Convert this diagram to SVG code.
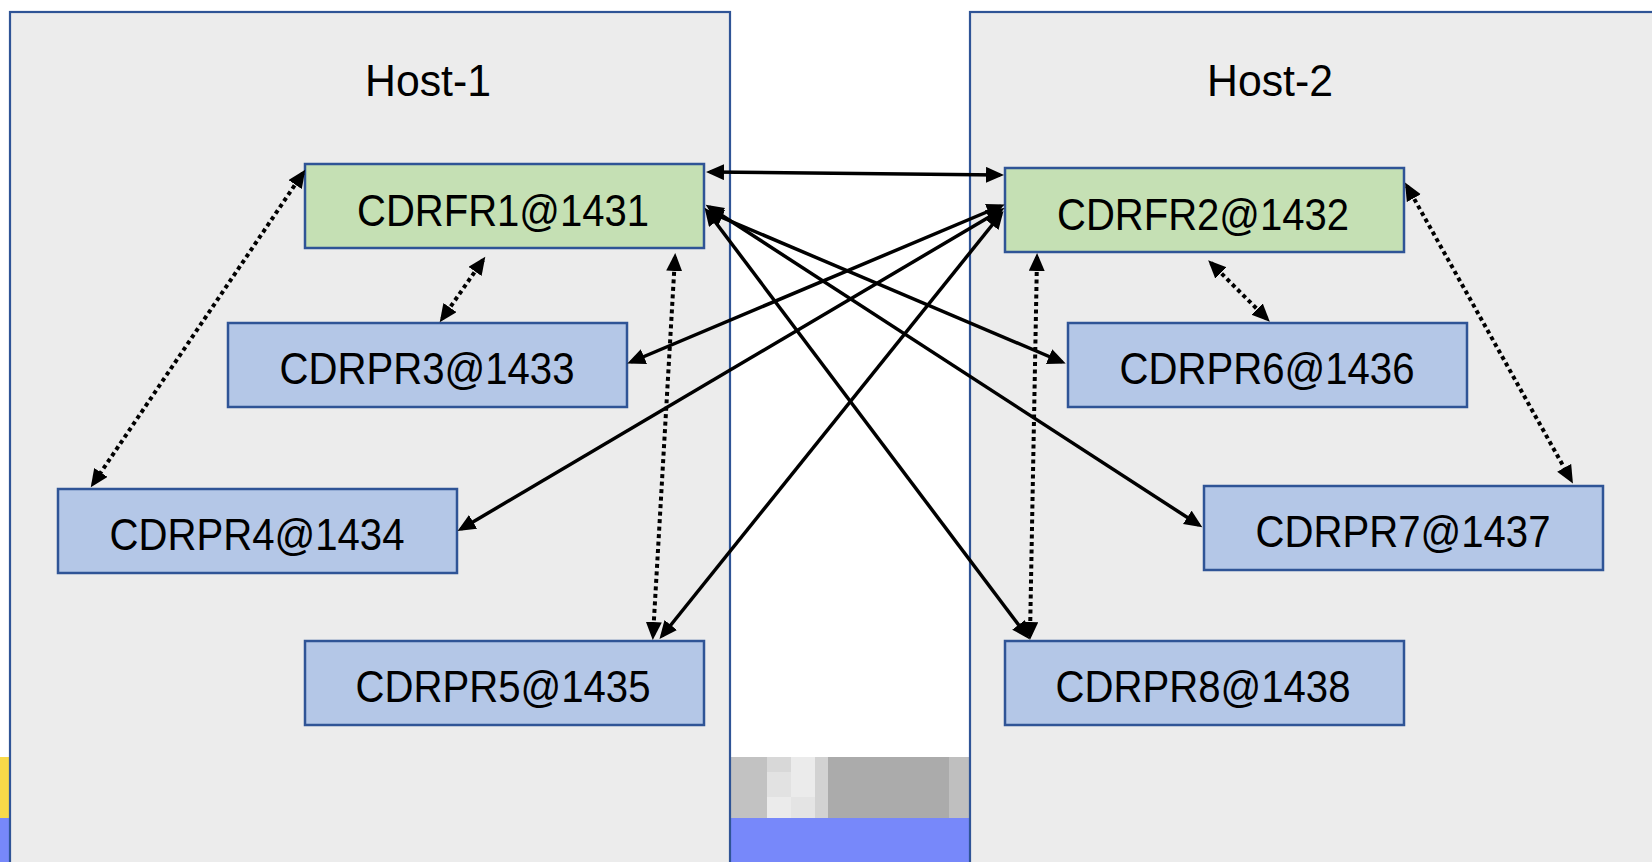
<svg xmlns="http://www.w3.org/2000/svg" width="1652" height="862" viewBox="0 0 1652 862">
  <style>
    .host { fill: #ececec; stroke: #2f5496; stroke-width: 2.2; }
    .fr { fill: #c5e0b4; stroke: #2f5496; stroke-width: 2.5; }
    .pr { fill: #b4c7e7; stroke: #2f5496; stroke-width: 2.5; }
    .lbl { font-family: "Liberation Sans", Arial, sans-serif; font-size: 45px; fill: #000; text-anchor: middle; }
    .solid { fill: none; stroke: #000; stroke-width: 3.5; marker-start: url(#arrow); marker-end: url(#arrow); }
    .dotted { fill: none; stroke: #000; stroke-width: 4; stroke-dasharray: 4 3.5; marker-start: url(#arrow); marker-end: url(#arrow); }
  </style>
  <defs>
    <marker id="arrow" markerUnits="userSpaceOnUse" markerWidth="19" markerHeight="17" refX="14" refY="8" orient="auto-start-reverse">
      <path d="M0,0 L18,8 L0,16 Z" fill="#000"/>
    </marker>
  </defs>

  <!-- page background and bottom strips -->
  <rect x="0" y="0" width="1652" height="862" fill="#ffffff"/>
  <rect x="0" y="757" width="12" height="61" fill="#f8d949"/>
  <rect x="0" y="818" width="1652" height="44" fill="#7788fa"/>
  <g id="band">
    <rect x="730" y="757" width="37" height="61" fill="#c2c2c2"/>
    <rect x="767" y="757" width="24" height="15" fill="#d8d8d8"/>
    <rect x="767" y="772" width="24" height="25" fill="#e2e2e2"/>
    <rect x="767" y="797" width="24" height="21" fill="#ebebeb"/>
    <rect x="791" y="757" width="24" height="40" fill="#ebebeb"/>
    <rect x="791" y="797" width="24" height="21" fill="#e4e4e4"/>
    <rect x="815" y="757" width="13" height="61" fill="#d2d2d2"/>
    <rect x="828" y="757" width="121" height="61" fill="#ababab"/>
    <rect x="949" y="757" width="21" height="61" fill="#bfbfbf"/>
  </g>

  <!-- hosts -->
  <g id="host-1">
    <rect class="host" x="10" y="12" width="720" height="870"/>
    <text class="lbl" x="428" y="96" textLength="126" lengthAdjust="spacingAndGlyphs">Host-1</text>
  </g>
  <g id="host-2">
    <rect class="host" x="970" y="12" width="720" height="870"/>
    <text class="lbl" x="1270" y="96" textLength="126" lengthAdjust="spacingAndGlyphs">Host-2</text>
  </g>

  <!-- nodes -->
  <g id="cdrfr1">
    <rect class="fr" x="305" y="164" width="399" height="84"/>
    <text class="lbl" x="503" y="226" textLength="292" lengthAdjust="spacingAndGlyphs">CDRFR1@1431</text>
  </g>
  <g id="cdrpr3">
    <rect class="pr" x="228" y="323" width="399" height="84"/>
    <text class="lbl" x="427" y="384" textLength="295" lengthAdjust="spacingAndGlyphs">CDRPR3@1433</text>
  </g>
  <g id="cdrpr4">
    <rect class="pr" x="58" y="489" width="399" height="84"/>
    <text class="lbl" x="257" y="550" textLength="295" lengthAdjust="spacingAndGlyphs">CDRPR4@1434</text>
  </g>
  <g id="cdrpr5">
    <rect class="pr" x="305" y="641" width="399" height="84"/>
    <text class="lbl" x="503" y="702" textLength="295" lengthAdjust="spacingAndGlyphs">CDRPR5@1435</text>
  </g>
  <g id="cdrfr2">
    <rect class="fr" x="1005" y="168" width="399" height="84"/>
    <text class="lbl" x="1203" y="230" textLength="292" lengthAdjust="spacingAndGlyphs">CDRFR2@1432</text>
  </g>
  <g id="cdrpr6">
    <rect class="pr" x="1068" y="323" width="399" height="84"/>
    <text class="lbl" x="1267" y="384" textLength="295" lengthAdjust="spacingAndGlyphs">CDRPR6@1436</text>
  </g>
  <g id="cdrpr7">
    <rect class="pr" x="1204" y="486" width="399" height="84"/>
    <text class="lbl" x="1403" y="547" textLength="295" lengthAdjust="spacingAndGlyphs">CDRPR7@1437</text>
  </g>
  <g id="cdrpr8">
    <rect class="pr" x="1005" y="641" width="399" height="84"/>
    <text class="lbl" x="1203" y="702" textLength="295" lengthAdjust="spacingAndGlyphs">CDRPR8@1438</text>
  </g>

  <!-- connectors -->
  <g id="connectors">
    <line class="solid" x1="710" y1="172" x2="1000" y2="175"/>
    <line class="solid" x1="709" y1="212" x2="1062" y2="362"/>
    <line class="solid" x1="709" y1="207" x2="1199" y2="525"/>
    <line class="solid" x1="707" y1="211" x2="1027" y2="636"/>
    <line class="solid" x1="1001" y1="206" x2="631" y2="362"/>
    <line class="solid" x1="1001" y1="210" x2="461" y2="529"/>
    <line class="solid" x1="1001" y1="214" x2="662" y2="636"/>

    <line class="dotted" x1="303" y1="173" x2="93" y2="484"/>
    <line class="dotted" x1="483" y1="260" x2="442" y2="319"/>
    <line class="dotted" x1="675" y1="257" x2="653" y2="636"/>
    <line class="dotted" x1="1037" y1="257" x2="1030" y2="636"/>
    <line class="dotted" x1="1211" y1="263" x2="1267" y2="319"/>
    <line class="dotted" x1="1407" y1="186" x2="1571" y2="480"/>
  </g>
</svg>
